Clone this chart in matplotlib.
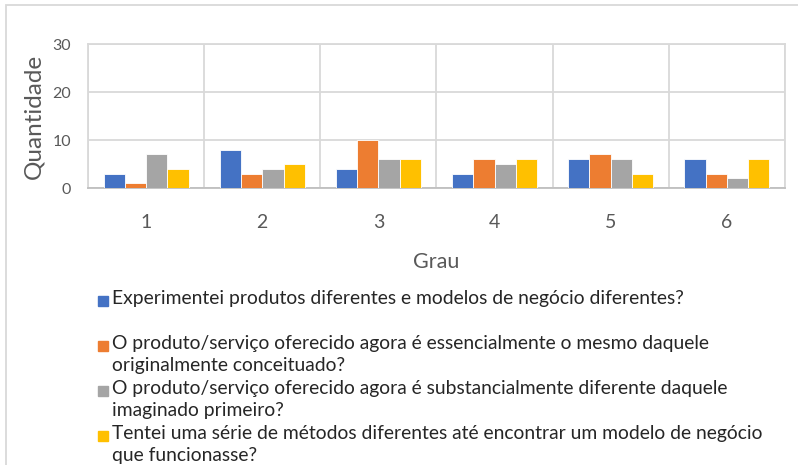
import numpy as np
import matplotlib.pyplot as plt
from matplotlib.patches import Rectangle

# dados
graus = ['1', '2', '3', '4', '5', '6']
experimentei = [3, 8, 4, 3, 6, 6]
mesmo_produto = [1, 3, 10, 6, 7, 3]
produto_diferente = [7, 4, 6, 5, 6, 2]
tentei_metodos = [4, 5, 6, 6, 3, 6]

rotulos = [
    'Experimentei produtos diferentes e modelos de negócio diferentes?',
    'O produto/serviço oferecido agora é essencialmente o mesmo daquele\noriginalmente conceituado?',
    'O produto/serviço oferecido agora é substancialmente diferente daquele\nimaginado primeiro?',
    'Tentei uma série de métodos diferentes até encontrar um modelo de negócio\nque funcionasse?',
]
cores = ['#4472C4', '#ED7D31', '#A5A5A5', '#FFC000']
series = [experimentei, mesmo_produto, produto_diferente, tentei_metodos]

plt.rcParams['font.family'] = ['Lato', 'DejaVu Sans']
cinza_texto = '#595959'
cinza_grade = '#D9D9D9'

W, H = 798, 465
fig = plt.figure(figsize=(W / 100, H / 100), dpi=100)

# moldura externa do gráfico
fig.add_artist(Rectangle((6 / W, -0.1), 1.2, 1 - 5 / H + 0.1, transform=fig.transFigure,
                         fill=False, edgecolor=cinza_grade, lw=1.3))

ax = fig.add_axes([88 / W, 1 - 188 / H, (785 - 88) / W, (188 - 44) / H])

x = np.arange(len(graus))
largura = 0.183
for i, (serie, cor) in enumerate(zip(series, cores)):
    ax.bar(x + (i - 1.5) * largura, serie, largura, color=cor,
           edgecolor='white', linewidth=0.6, zorder=3)

ax.set_xlim(-0.5, len(graus) - 0.5)
ax.set_ylim(0, 30)
ax.set_yticks([0, 10, 20, 30])
ax.set_xticks(x, graus)
ax.set_xticks(np.arange(-0.5, len(graus), 1), minor=True)
ax.grid(True, which='minor', axis='x', color=cinza_grade, lw=1.3, zorder=0)
ax.grid(True, which='major', axis='y', color=cinza_grade, lw=1.3, zorder=0)
ax.tick_params(which='both', length=0)
ax.tick_params(axis='x', labelsize=14, pad=19, labelcolor=cinza_texto)
ax.tick_params(axis='y', labelsize=11.5, pad=12, labelcolor=cinza_texto)
for lado in ax.spines.values():
    lado.set_color(cinza_grade)
    lado.set_linewidth(1.3)
ax.spines['bottom'].set_color('#BFBFBF')

ax.set_ylabel('Quantidade', fontsize=17.5, color=cinza_texto, labelpad=6)
ax.set_xlabel('Grau', fontsize=15.5, color=cinza_texto, labelpad=15)

# legenda
for i, (rot, cor) in enumerate(zip(rotulos, cores)):
    y = 301 + i * 45
    fig.add_artist(Rectangle((98 / W, 1 - (y + 5) / H), 10 / W, 10 / H,
                             transform=fig.transFigure, color=cor))
    fig.text(112 / W, 1 - (y - 11) / H, rot, va='top', ha='left',
             fontsize=13.9, color='#262626', linespacing=1.33)

fig.savefig('out.png', dpi=100)
